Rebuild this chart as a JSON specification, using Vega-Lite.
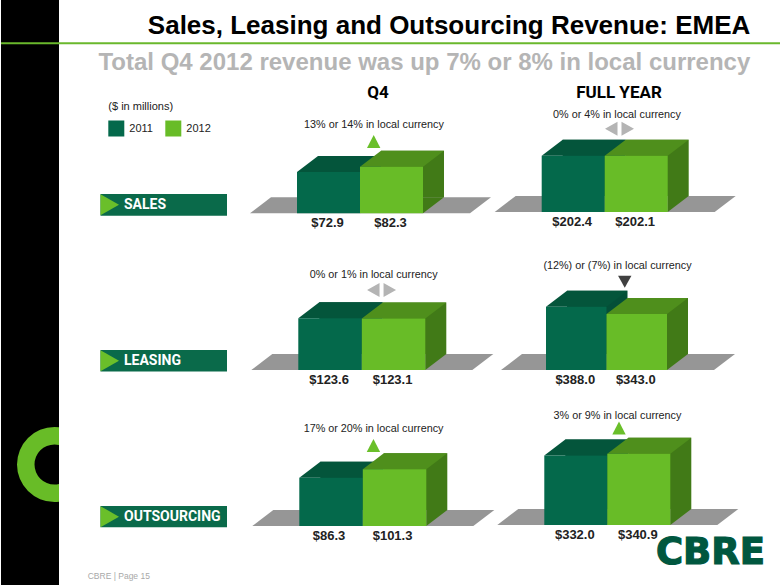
{"$schema":"https://vega.github.io/schema/vega-lite/v6.json","padding":0,"background":"white","columns":4,"spacing":0,"bounds":"flush","align":"each","center":false,
"config":{"view":{"stroke":null},"axis":{"disable":true},"font":"Liberation Sans","text":{"font":"Liberation Sans"}},
"datasets":{"rev":[
{"metric":"Sales","period":"Q4","year":"2011","value":72.9},
{"metric":"Sales","period":"Q4","year":"2012","value":82.3,"note":"13% or 14% in local currency"},
{"metric":"Sales","period":"FY","year":"2011","value":202.4},
{"metric":"Sales","period":"FY","year":"2012","value":202.1,"note":"0% or 4% in local currency"},
{"metric":"Leasing","period":"Q4","year":"2011","value":123.6},
{"metric":"Leasing","period":"Q4","year":"2012","value":123.1,"note":"0% or 1% in local currency"},
{"metric":"Leasing","period":"FY","year":"2011","value":388.0},
{"metric":"Leasing","period":"FY","year":"2012","value":343.0,"note":"(12%) or (7%) in local currency"},
{"metric":"Outsourcing","period":"Q4","year":"2011","value":86.3},
{"metric":"Outsourcing","period":"Q4","year":"2012","value":101.3,"note":"17% or 20% in local currency"},
{"metric":"Outsourcing","period":"FY","year":"2011","value":332.0},
{"metric":"Outsourcing","period":"FY","year":"2012","value":340.9,"note":"3% or 9% in local currency"}
]},
"concat":[
{"width":58,"height":100,"view":{"fill":"#000000","stroke":null},"data":{"values":[{"k":1}]},"mark":{"type":"rule","color":"#6ab82c","strokeWidth":2},"encoding":{"y":{"datum":43.3,"type":"quantitative","scale":{"domain":[0,100],"range":[0,100]}}}},
{"width":190,"height":100,"layer":[
 {"data":{"values":[{"line":"Sales, Leasing and Outsourcing Revenue: EMEA"}]},"mark":{"type":"text","align":"right","fontSize":26,"fontWeight":"bold","color":"#000000"},"encoding":{"text":{"field":"line"},"x":{"datum":691.3,"type":"quantitative","scale":{"domain":[0,722],"range":[0,722]}},"y":{"datum":26,"type":"quantitative","scale":{"domain":[0,100],"range":[0,100]}}}},
 {"data":{"values":[{"line":"Total Q4 2012 revenue was up 7% or 8% in local currency"}]},"mark":{"type":"text","align":"right","fontSize":24,"fontWeight":"bold","color":"#b5b5b5"},"encoding":{"text":{"field":"line"},"x":{"datum":691.3,"type":"quantitative","scale":{"domain":[0,722],"range":[0,722]}},"y":{"datum":63,"type":"quantitative","scale":{"domain":[0,100],"range":[0,100]}}}},
 {"data":{"values":[{"k":1}]},"mark":{"type":"rule","color":"#6ab82c","strokeWidth":2},"encoding":{"x":{"datum":0,"type":"quantitative","scale":{"domain":[0,722],"range":[0,722]}},"x2":{"datum":722},"y":{"datum":43.3,"type":"quantitative","scale":{"domain":[0,100],"range":[0,100]}}}},
 {"data":{"values":[{"year":"2011"},{"year":"2012"}]},"mark":{"type":"point","size":0,"filled":true,"opacity":1},"encoding":{"color":{"field":"year","type":"nominal","scale":{"domain":["2011","2012"],"range":["#04694b","#68bc27"]},"legend":{"orient":"none","legendX":107.3,"legendY":100.5,"direction":"horizontal","title":"($ in millions)","titleFontSize":11,"titleFontWeight":"normal","titleColor":"#222222","titleFont":"Liberation Sans","titlePadding":9,"labelFontSize":11,"labelColor":"#222222","labelFont":"Liberation Sans","symbolType":"square","symbolSize":256,"symbolOpacity":1,"symbolStrokeWidth":0,"labelOffset":5,"columnPadding":12,"padding":0}}}}
]},
{"width":247,"height":100,"data":{"values":[{"h":"Q4"}]},"mark":{"type":"text","fontSize":17,"fontWeight":"bold","font":"Roboto","color":"#000000"},"encoding":{"text":{"field":"h"},"x":{"datum":129,"type":"quantitative","scale":{"domain":[0,247],"range":[0,247]}},"y":{"datum":93,"type":"quantitative","scale":{"domain":[0,100],"range":[0,100]}}}},
{"width":285,"height":100,"data":{"values":[{"h":"FULL YEAR"}]},"mark":{"type":"text","fontSize":17,"fontWeight":"bold","font":"Roboto","color":"#000000"},"encoding":{"text":{"field":"h"},"x":{"datum":123,"type":"quantitative","scale":{"domain":[0,285],"range":[0,285]}},"y":{"datum":93,"type":"quantitative","scale":{"domain":[0,100],"range":[0,100]}}}},

{"width":58,"height":145,"view":{"fill":"#000000","stroke":null},"data":{"values":[{"t":""}]},"mark":"text","encoding":{"text":{"field":"t"}}},
{"width":190,"height":145,"data":{"values":[{"label":"SALES"}]},"encoding":{"x":{"field":"label","type":"nominal","scale":{"type":"band","range":[41.5,168],"paddingInner":0,"paddingOuter":0}},"y":{"field":"label","type":"nominal","scale":{"type":"band","range":[94,115.7],"paddingInner":0,"paddingOuter":0}}},"layer":[
 {"mark":{"type":"rect","color":"#0a6a4a"}},
 {"mark":{"type":"point","shape":"M-63.25,-10.5L-44.75,0L-63.25,10.5Z","size":4,"filled":true,"color":"#6abf2a","opacity":1}},
 {"mark":{"type":"text","align":"left","dx":-39.75,"fontSize":14,"fontWeight":"bold","font":"Roboto","color":"#ffffff"},"encoding":{"text":{"field":"label"}}}
]},
{"width":247,"height":145,"data":{"name":"rev"},"transform":[{"filter":"datum.metric==='Sales'&&datum.period==='Q4'"}],
 "encoding":{"x":{"field":"year","type":"nominal","scale":{"type":"band","domain":["2011","2012"],"range":[48,174],"paddingInner":0,"paddingOuter":0}},"y":{"field":"value","type":"quantitative","scale":{"domain":[0,200.2],"range":[113.3,0],"nice":false}}},
 "layer":[
 {"transform":[{"filter":"datum.year==='2011'"}],"mark":{"type":"point","shape":"M-78.5,0L141.5,0L162.5,-16L-57.5,-16Z","size":4,"filled":true,"color":"#969696","opacity":1},"encoding":{"y":{"datum":0,"type":"quantitative","scale":{"domain":[0,200.2],"range":[113.3,0],"nice":false}}}},
 {"mark":{"type":"bar","xOffset":21,"yOffset":-16,"y2Offset":-16},"encoding":{"color":{"condition":{"test":"datum.year==='2011'","value":"#044f38"},"value":"#417a17"}}},
 {"mark":{"type":"point","shape":"M31.5,0L52.5,-16L31.5,-16Z","size":4,"filled":true,"opacity":1},"encoding":{"y":{"datum":0,"type":"quantitative","scale":{"domain":[0,200.2],"range":[113.3,0],"nice":false}},"color":{"condition":{"test":"datum.year==='2011'","value":"#044f38"},"value":"#417a17"}}},
 {"mark":{"type":"point","shape":"M-31.5,0L31.5,0L52.5,-16L-10.5,-16Z","size":4,"filled":true,"opacity":1},"encoding":{"color":{"condition":{"test":"datum.year==='2011'","value":"#04553b"},"value":"#4f8f1c"}}},
 {"mark":{"type":"bar"},"encoding":{"color":{"field":"year","type":"nominal","scale":{"domain":["2011","2012"],"range":["#04694b","#68bc27"]},"legend":null}}},
 {"mark":{"type":"text","dy":10,"dx":-1,"fontSize":13,"fontWeight":"bold","color":"#222222"},"encoding":{"text":{"field":"value","type":"quantitative","format":"$.1f"},"y":{"datum":0,"type":"quantitative","scale":{"domain":[0,200.2],"range":[113.3,0],"nice":false}}}},
 {"transform":[{"filter":"datum.year==='2012'"}],"mark":{"type":"text","dx":-17.5,"dy":-41.7,"fontSize":10.8,"color":"#222222"},"encoding":{"text":{"field":"note"}}},
 {"transform":[{"filter":"datum.year==='2012'"}],"mark":{"type":"point","shape":"M0,-6.5L-6.7,6.5L6.7,6.5Z","size":4,"filled":true,"color":"#6abf2a","opacity":1,"xOffset":-17.8,"yOffset":-25.2}}
]},
{"width":285,"height":145,"data":{"name":"rev"},"transform":[{"filter":"datum.metric==='Sales'&&datum.period==='FY'"}],
 "encoding":{"x":{"field":"year","type":"nominal","scale":{"type":"band","domain":["2011","2012"],"range":[45.7,171.7],"paddingInner":0,"paddingOuter":0}},"y":{"field":"value","type":"quantitative","scale":{"domain":[0,402.9],"range":[112,0],"nice":false}}},
 "layer":[
 {"transform":[{"filter":"datum.year==='2011'"}],"mark":{"type":"point","shape":"M-78.5,0L141.5,0L162.5,-16L-57.5,-16Z","size":4,"filled":true,"color":"#969696","opacity":1},"encoding":{"y":{"datum":0,"type":"quantitative","scale":{"domain":[0,402.9],"range":[112,0],"nice":false}}}},
 {"mark":{"type":"bar","xOffset":21,"yOffset":-16,"y2Offset":-16},"encoding":{"color":{"condition":{"test":"datum.year==='2011'","value":"#044f38"},"value":"#417a17"}}},
 {"mark":{"type":"point","shape":"M31.5,0L52.5,-16L31.5,-16Z","size":4,"filled":true,"opacity":1},"encoding":{"y":{"datum":0,"type":"quantitative","scale":{"domain":[0,402.9],"range":[112,0],"nice":false}},"color":{"condition":{"test":"datum.year==='2011'","value":"#044f38"},"value":"#417a17"}}},
 {"mark":{"type":"point","shape":"M-31.5,0L31.5,0L52.5,-16L-10.5,-16Z","size":4,"filled":true,"opacity":1},"encoding":{"color":{"condition":{"test":"datum.year==='2011'","value":"#04553b"},"value":"#4f8f1c"}}},
 {"mark":{"type":"bar"},"encoding":{"color":{"field":"year","type":"nominal","scale":{"domain":["2011","2012"],"range":["#04694b","#68bc27"]},"legend":null}}},
 {"mark":{"type":"text","dy":10,"dx":-1,"fontSize":13,"fontWeight":"bold","color":"#222222"},"encoding":{"text":{"field":"value","type":"quantitative","format":"$.1f"},"y":{"datum":0,"type":"quantitative","scale":{"domain":[0,402.9],"range":[112,0],"nice":false}}}},
 {"transform":[{"filter":"datum.year==='2012'"}],"mark":{"type":"text","dx":-19.2,"dy":-41.3,"fontSize":10.8,"color":"#222222"},"encoding":{"text":{"field":"note"}}},
 {"transform":[{"filter":"datum.year==='2012'"}],"mark":{"type":"point","shape":"M-14.5,0L-2,-7L-2,7Z M2,-7L14.5,0L2,7Z","size":4,"filled":true,"color":"#b4b4b4","opacity":1,"xOffset":-16.7,"yOffset":-27}}
]},

{"width":58,"height":150,"view":{"fill":"#000000","stroke":null},"data":{"values":[{"t":""}]},"mark":"text","encoding":{"text":{"field":"t"}}},
{"width":190,"height":150,"data":{"values":[{"label":"LEASING"}]},"encoding":{"x":{"field":"label","type":"nominal","scale":{"type":"band","range":[41.5,168],"paddingInner":0,"paddingOuter":0}},"y":{"field":"label","type":"nominal","scale":{"type":"band","range":[105,126.5],"paddingInner":0,"paddingOuter":0}}},"layer":[
 {"mark":{"type":"rect","color":"#0a6a4a"}},
 {"mark":{"type":"point","shape":"M-63.25,-10.5L-44.75,0L-63.25,10.5Z","size":4,"filled":true,"color":"#6abf2a","opacity":1}},
 {"mark":{"type":"text","align":"left","dx":-39.75,"fontSize":14,"fontWeight":"bold","font":"Roboto","color":"#ffffff"},"encoding":{"text":{"field":"label"}}}
]},
{"width":247,"height":150,"data":{"name":"rev"},"transform":[{"filter":"datum.metric==='Leasing'&&datum.period==='Q4'"}],
 "encoding":{"x":{"field":"year","type":"nominal","scale":{"type":"band","domain":["2011","2012"],"range":[49.3,176.3],"paddingInner":0,"paddingOuter":0}},"y":{"field":"value","type":"quantitative","scale":{"domain":[0,299],"range":[125,0],"nice":false}}},
 "layer":[
 {"transform":[{"filter":"datum.year==='2011'"}],"mark":{"type":"point","shape":"M-78.75,0L142.25,0L163.25,-16L-57.75,-16Z","size":4,"filled":true,"color":"#969696","opacity":1},"encoding":{"y":{"datum":0,"type":"quantitative","scale":{"domain":[0,299],"range":[125,0],"nice":false}}}},
 {"mark":{"type":"bar","xOffset":21,"yOffset":-16,"y2Offset":-16},"encoding":{"color":{"condition":{"test":"datum.year==='2011'","value":"#044f38"},"value":"#417a17"}}},
 {"mark":{"type":"point","shape":"M31.75,0L52.75,-16L31.75,-16Z","size":4,"filled":true,"opacity":1},"encoding":{"y":{"datum":0,"type":"quantitative","scale":{"domain":[0,299],"range":[125,0],"nice":false}},"color":{"condition":{"test":"datum.year==='2011'","value":"#044f38"},"value":"#417a17"}}},
 {"mark":{"type":"point","shape":"M-31.75,0L31.75,0L52.75,-16L-10.75,-16Z","size":4,"filled":true,"opacity":1},"encoding":{"color":{"condition":{"test":"datum.year==='2011'","value":"#04553b"},"value":"#4f8f1c"}}},
 {"mark":{"type":"bar"},"encoding":{"color":{"field":"year","type":"nominal","scale":{"domain":["2011","2012"],"range":["#04694b","#68bc27"]},"legend":null}}},
 {"mark":{"type":"text","dy":10,"dx":-1,"fontSize":13,"fontWeight":"bold","color":"#222222"},"encoding":{"text":{"field":"value","type":"quantitative","format":"$.1f"},"y":{"datum":0,"type":"quantitative","scale":{"domain":[0,299],"range":[125,0],"nice":false}}}},
 {"transform":[{"filter":"datum.year==='2012'"}],"mark":{"type":"text","dx":-19.9,"dy":-43.5,"fontSize":10.8,"color":"#222222"},"encoding":{"text":{"field":"note"}}},
 {"transform":[{"filter":"datum.year==='2012'"}],"mark":{"type":"point","shape":"M-14.5,0L-2,-7L-2,7Z M2,-7L14.5,0L2,7Z","size":4,"filled":true,"color":"#b4b4b4","opacity":1,"xOffset":-12,"yOffset":-28.5}}
]},
{"width":285,"height":150,"data":{"name":"rev"},"transform":[{"filter":"datum.metric==='Leasing'&&datum.period==='FY'"}],
 "encoding":{"x":{"field":"year","type":"nominal","scale":{"type":"band","domain":["2011","2012"],"range":[50,171],"paddingInner":0,"paddingOuter":0}},"y":{"field":"value","type":"quantitative","scale":{"domain":[0,766.4],"range":[125,0],"nice":false}}},
 "layer":[
 {"transform":[{"filter":"datum.year==='2011'"}],"mark":{"type":"point","shape":"M-75.25,0L137.75,0L158.75,-16L-54.25,-16Z","size":4,"filled":true,"color":"#969696","opacity":1},"encoding":{"y":{"datum":0,"type":"quantitative","scale":{"domain":[0,766.4],"range":[125,0],"nice":false}}}},
 {"mark":{"type":"bar","xOffset":21,"yOffset":-16,"y2Offset":-16},"encoding":{"color":{"condition":{"test":"datum.year==='2011'","value":"#044f38"},"value":"#417a17"}}},
 {"mark":{"type":"point","shape":"M30.25,0L51.25,-16L30.25,-16Z","size":4,"filled":true,"opacity":1},"encoding":{"y":{"datum":0,"type":"quantitative","scale":{"domain":[0,766.4],"range":[125,0],"nice":false}},"color":{"condition":{"test":"datum.year==='2011'","value":"#044f38"},"value":"#417a17"}}},
 {"mark":{"type":"point","shape":"M-30.25,0L30.25,0L51.25,-16L-9.25,-16Z","size":4,"filled":true,"opacity":1},"encoding":{"color":{"condition":{"test":"datum.year==='2011'","value":"#04553b"},"value":"#4f8f1c"}}},
 {"mark":{"type":"bar"},"encoding":{"color":{"field":"year","type":"nominal","scale":{"domain":["2011","2012"],"range":["#04694b","#68bc27"]},"legend":null}}},
 {"mark":{"type":"text","dy":10,"dx":-1,"fontSize":13,"fontWeight":"bold","color":"#222222"},"encoding":{"text":{"field":"value","type":"quantitative","format":"$.1f"},"y":{"datum":0,"type":"quantitative","scale":{"domain":[0,766.4],"range":[125,0],"nice":false}}}},
 {"transform":[{"filter":"datum.year==='2012'"}],"mark":{"type":"text","dx":-19.25,"dy":-48,"fontSize":10.8,"color":"#222222"},"encoding":{"text":{"field":"note"}}},
 {"transform":[{"filter":"datum.year==='2012'"}],"mark":{"type":"point","shape":"M-6.7,-6L6.7,-6L0,6Z","size":4,"filled":true,"color":"#404040","opacity":1,"xOffset":-12,"yOffset":-32.2}}
]},

{"width":58,"height":150,"view":{"fill":"#000000","stroke":null},"data":{"values":[{"k":1}]},"mark":{"type":"arc","innerRadius":20,"outerRadius":37.5,"theta":0,"theta2":6.2832,"color":"#68bc27","clip":true},"encoding":{"x":{"datum":53.5,"type":"quantitative","scale":{"domain":[0,58],"range":[0,58]}},"y":{"datum":69.5,"type":"quantitative","scale":{"domain":[0,150],"range":[0,150]}}}},
{"width":190,"height":150,"data":{"values":[{"label":"OUTSOURCING"}]},"encoding":{"x":{"field":"label","type":"nominal","scale":{"type":"band","range":[41.5,168],"paddingInner":0,"paddingOuter":0}},"y":{"field":"label","type":"nominal","scale":{"type":"band","range":[111,132.3],"paddingInner":0,"paddingOuter":0}}},"layer":[
 {"mark":{"type":"rect","color":"#0a6a4a"}},
 {"mark":{"type":"point","shape":"M-63.25,-10.5L-44.75,0L-63.25,10.5Z","size":4,"filled":true,"color":"#6abf2a","opacity":1}},
 {"mark":{"type":"text","align":"left","dx":-39.75,"fontSize":14,"fontWeight":"bold","font":"Roboto","color":"#ffffff"},"encoding":{"text":{"field":"label"}}}
]},
{"width":247,"height":150,"data":{"name":"rev"},"transform":[{"filter":"datum.metric==='Outsourcing'&&datum.period==='Q4'"}],
 "encoding":{"x":{"field":"year","type":"nominal","scale":{"type":"band","domain":["2011","2012"],"range":[50.3,177.3],"paddingInner":0,"paddingOuter":0}},"y":{"field":"value","type":"quantitative","scale":{"domain":[0,234],"range":[131,0],"nice":false}}},
 "layer":[
 {"transform":[{"filter":"datum.year==='2011'"}],"mark":{"type":"point","shape":"M-78.75,0L142.25,0L163.25,-16L-57.75,-16Z","size":4,"filled":true,"color":"#969696","opacity":1},"encoding":{"y":{"datum":0,"type":"quantitative","scale":{"domain":[0,234],"range":[131,0],"nice":false}}}},
 {"mark":{"type":"bar","xOffset":21,"yOffset":-16,"y2Offset":-16},"encoding":{"color":{"condition":{"test":"datum.year==='2011'","value":"#044f38"},"value":"#417a17"}}},
 {"mark":{"type":"point","shape":"M31.75,0L52.75,-16L31.75,-16Z","size":4,"filled":true,"opacity":1},"encoding":{"y":{"datum":0,"type":"quantitative","scale":{"domain":[0,234],"range":[131,0],"nice":false}},"color":{"condition":{"test":"datum.year==='2011'","value":"#044f38"},"value":"#417a17"}}},
 {"mark":{"type":"point","shape":"M-31.75,0L31.75,0L52.75,-16L-10.75,-16Z","size":4,"filled":true,"opacity":1},"encoding":{"color":{"condition":{"test":"datum.year==='2011'","value":"#04553b"},"value":"#4f8f1c"}}},
 {"mark":{"type":"bar"},"encoding":{"color":{"field":"year","type":"nominal","scale":{"domain":["2011","2012"],"range":["#04694b","#68bc27"]},"legend":null}}},
 {"mark":{"type":"text","dy":10,"dx":-2,"fontSize":13,"fontWeight":"bold","color":"#222222"},"encoding":{"text":{"field":"value","type":"quantitative","format":"$.1f"},"y":{"datum":0,"type":"quantitative","scale":{"domain":[0,234],"range":[131,0],"nice":false}}}},
 {"transform":[{"filter":"datum.year==='2012'"}],"mark":{"type":"text","dx":-21,"dy":-40.3,"fontSize":10.8,"color":"#222222"},"encoding":{"text":{"field":"note"}}},
 {"transform":[{"filter":"datum.year==='2012'"}],"mark":{"type":"point","shape":"M0,-6.5L-6.7,6.5L6.7,6.5Z","size":4,"filled":true,"color":"#6abf2a","opacity":1,"xOffset":-21.1,"yOffset":-23.8}}
]},
{"width":285,"height":150,"data":{"name":"rev"},"transform":[{"filter":"datum.metric==='Outsourcing'&&datum.period==='FY'"}],
 "encoding":{"x":{"field":"year","type":"nominal","scale":{"type":"band","domain":["2011","2012"],"range":[48.3,174.3],"paddingInner":0,"paddingOuter":0}},"y":{"field":"value","type":"quantitative","scale":{"domain":[0,621.4],"range":[130,0],"nice":false}}},
 "layer":[
 {"transform":[{"filter":"datum.year==='2011'"}],"mark":{"type":"point","shape":"M-78.5,0L141.5,0L162.5,-16L-57.5,-16Z","size":4,"filled":true,"color":"#969696","opacity":1},"encoding":{"y":{"datum":0,"type":"quantitative","scale":{"domain":[0,621.4],"range":[130,0],"nice":false}}}},
 {"mark":{"type":"bar","xOffset":21,"yOffset":-16,"y2Offset":-16},"encoding":{"color":{"condition":{"test":"datum.year==='2011'","value":"#044f38"},"value":"#417a17"}}},
 {"mark":{"type":"point","shape":"M31.5,0L52.5,-16L31.5,-16Z","size":4,"filled":true,"opacity":1},"encoding":{"y":{"datum":0,"type":"quantitative","scale":{"domain":[0,621.4],"range":[130,0],"nice":false}},"color":{"condition":{"test":"datum.year==='2011'","value":"#044f38"},"value":"#417a17"}}},
 {"mark":{"type":"point","shape":"M-31.5,0L31.5,0L52.5,-16L-10.5,-16Z","size":4,"filled":true,"opacity":1},"encoding":{"color":{"condition":{"test":"datum.year==='2011'","value":"#04553b"},"value":"#4f8f1c"}}},
 {"mark":{"type":"bar"},"encoding":{"color":{"field":"year","type":"nominal","scale":{"domain":["2011","2012"],"range":["#04694b","#68bc27"]},"legend":null}}},
 {"mark":{"type":"text","dy":10,"dx":-1,"fontSize":13,"fontWeight":"bold","color":"#222222"},"encoding":{"text":{"field":"value","type":"quantitative","format":"$.1f"},"y":{"datum":0,"type":"quantitative","scale":{"domain":[0,621.4],"range":[130,0],"nice":false}}}},
 {"transform":[{"filter":"datum.year==='2012'"}],"mark":{"type":"text","dx":-21.3,"dy":-37.7,"fontSize":10.8,"color":"#222222"},"encoding":{"text":{"field":"note"}}},
 {"transform":[{"filter":"datum.year==='2012'"}],"mark":{"type":"point","shape":"M0,-6.5L-6.7,6.5L6.7,6.5Z","size":4,"filled":true,"color":"#6abf2a","opacity":1,"xOffset":-19.8,"yOffset":-25.7}}
]},

{"width":58,"height":40,"view":{"fill":"#000000","stroke":null},"data":{"values":[{"t":""}]},"mark":"text","encoding":{"text":{"field":"t"}}},
{"width":190,"height":40,"data":{"values":[{"f":"CBRE | Page 15"}]},"mark":{"type":"text","align":"left","fontSize":8.5,"color":"#a8a8a8"},"encoding":{"text":{"field":"f"},"x":{"datum":28.7,"type":"quantitative","scale":{"domain":[0,190],"range":[0,190]}},"y":{"datum":30.7,"type":"quantitative","scale":{"domain":[0,40],"range":[0,40]}}}},
{"width":247,"height":40,"data":{"values":[{"t":""}]},"mark":"text","encoding":{"text":{"field":"t"}}},
{"width":285,"height":40,"data":{"values":[{"f":"CBRE"}]},"mark":{"type":"text","align":"right","font":"DejaVu Sans","fontSize":37,"fontWeight":"bold","color":"#00573f","stroke":"#00573f","strokeWidth":1.2},"encoding":{"text":{"field":"f"},"x":{"datum":269,"type":"quantitative","scale":{"domain":[0,285],"range":[0,285]}},"y":{"datum":7.5,"type":"quantitative","scale":{"domain":[0,40],"range":[0,40]}}}}
]}
